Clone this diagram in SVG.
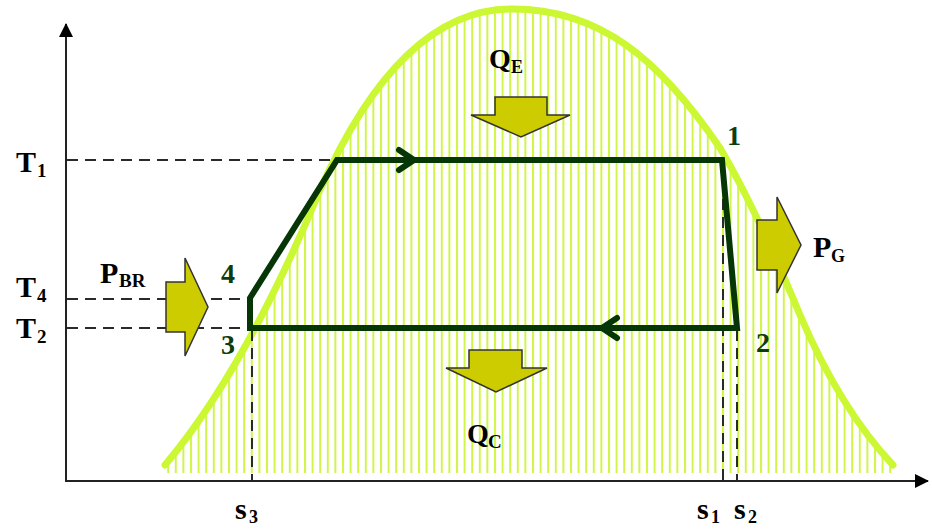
<svg xmlns="http://www.w3.org/2000/svg" width="932" height="529" viewBox="0 0 932 529">
<style>
  .lbl{font-family:"Liberation Serif","Times New Roman",serif;font-weight:bold;fill:#000}
  .big{font-size:30px}
  .sub{font-size:19px}
  .num{font-family:"Liberation Serif","Times New Roman",serif;font-weight:bold;font-size:28px;fill:#0d3d0d}
  .dash{stroke:#2a2a2a;stroke-width:2;stroke-dasharray:11,7;fill:none}
  .axis{stroke:#222;stroke-width:2;fill:none}
  .cyc{stroke:#063506;stroke-width:6;fill:none;stroke-linejoin:miter}
  .chev{stroke:#063506;stroke-width:6;fill:none;stroke-linecap:round;stroke-linejoin:round}
  .blk{fill:#cccc00;stroke:#333;stroke-width:1.5;stroke-linejoin:miter}
</style>
<defs>
  <pattern id="hatch" patternUnits="userSpaceOnUse" x="0" y="0" width="7.6" height="10">
    <rect x="0" y="0" width="2" height="10" fill="#cff54a"/>
  </pattern>
  <clipPath id="bell">
    <path d="M165,465 C220,400 270,310 320,190 C360,100 420,10 510,9 C600,8 660,60 720,148 C745,190 775,255 800,315 C830,385 860,430 893,465 L893,473 L165,473 Z"/>
  </clipPath>
  <marker id="ah" viewBox="0 0 14 14" refX="13" refY="7" markerWidth="14" markerHeight="14" markerUnits="userSpaceOnUse" orient="auto">
    <path d="M0,0 L14,7 L0,14 Z" fill="#000"/>
  </marker>
</defs>
<rect width="932" height="529" fill="#fff"/>
<g id="dome">
  <rect x="160" y="0" width="740" height="480" fill="url(#hatch)" clip-path="url(#bell)"/>
  <path d="M165,465 C220,400 270,310 320,190 C360,100 420,10 510,9 C600,8 660,60 720,148 C745,190 775,255 800,315 C830,385 860,430 893,465" fill="none" stroke="#ccf733" stroke-width="7" stroke-linecap="round"/>
</g>
<g id="axes">
  <line class="axis" x1="66" y1="482" x2="66" y2="24" marker-end="url(#ah)"/>
  <line class="axis" x1="66" y1="481" x2="928" y2="481" marker-end="url(#ah)"/>
</g>
<g id="guides">
  <line class="dash" x1="67" y1="160" x2="335" y2="160"/>
  <line class="dash" x1="67" y1="299" x2="250" y2="299"/>
  <line class="dash" x1="67" y1="328" x2="250" y2="328"/>
  <line class="dash" x1="252" y1="330" x2="252" y2="480"/>
  <line class="dash" x1="723" y1="163" x2="723" y2="480"/>
  <line class="dash" x1="737" y1="330" x2="737" y2="480"/>
</g>
<g id="connectors">
  <path id="cycle" class="cyc" d="M337,160 L722,160 L737,328 L250,328 L250,298 Z"/>
  <polyline class="chev" points="399,150 414,160 399,170"/>
  <polyline class="chev" points="617,318 602,328 617,338"/>
</g>
<g id="arrow-QE"><polygon class="blk" points="495,97 547,97 547,115 570,115 521,137 471,115 495,115"/></g>
<g id="arrow-QC"><polygon class="blk" points="469,350 522,350 522,368 547,368 496,392 446,368 469,368"/></g>
<g id="arrow-PBR"><polygon class="blk" points="166,282 185,282 185,258 208,307 185,356 185,332 166,332"/></g>
<g id="arrow-PG"><polygon class="blk" points="757,220 777,220 777,197 801,245 777,293 777,270 757,270"/></g>
<g id="labels">
  <text class="lbl big" x="16" y="172">T</text><text class="lbl sub" x="37" y="177">1</text>
  <text class="lbl big" x="16" y="297">T</text><text class="lbl sub" x="37" y="302">4</text>
  <text class="lbl big" x="16" y="338">T</text><text class="lbl sub" x="37" y="343">2</text>
  <text class="lbl big" x="100" y="283">P</text><text class="lbl sub" x="119" y="287">BR</text>
  <text class="lbl big" x="813" y="257">P</text><text class="lbl" font-size="18" x="831" y="262">G</text>
  <text class="lbl" font-size="28" x="489" y="68">Q</text><text class="lbl" font-size="18" x="511" y="73">E</text>
  <text class="lbl" font-size="28" x="467" y="443">Q</text><text class="lbl sub" x="488" y="448">C</text>
  <text class="lbl big" x="235" y="519">s</text><text class="lbl" font-size="18" x="249" y="523">3</text>
  <text class="lbl big" x="697" y="519">s</text><text class="lbl" font-size="18" x="711" y="523">1</text>
  <text class="lbl big" x="734" y="519">s</text><text class="lbl" font-size="18" x="748" y="523">2</text>
</g>
<g id="points">
  <text class="num" x="727" y="145">1</text>
  <text class="num" x="756" y="352">2</text>
  <text class="num" x="221" y="354">3</text>
  <text class="num" x="221" y="283">4</text>
</g>
</svg>
